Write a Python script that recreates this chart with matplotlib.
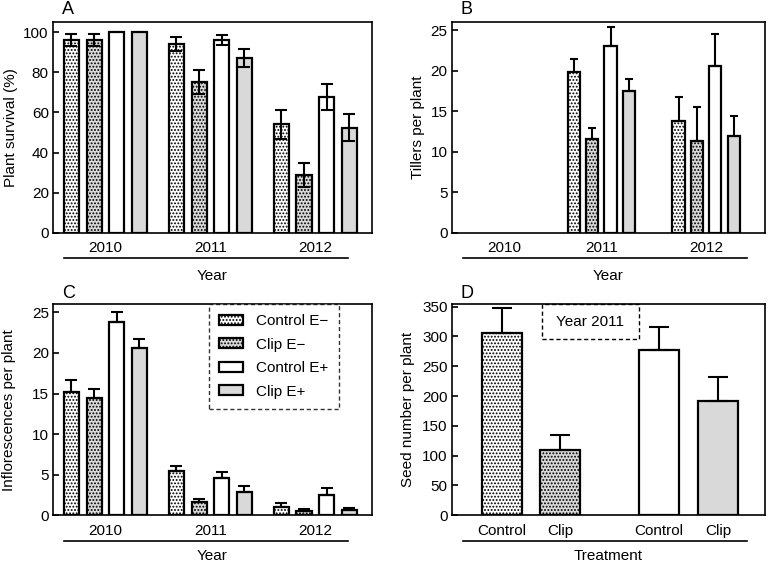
import matplotlib
matplotlib.use('Agg')
import matplotlib.pyplot as plt
import numpy as np
from matplotlib.patches import Patch, Rectangle
import matplotlib.transforms as mtransforms

plt.rcParams['font.family'] = ['Liberation Sans', 'DejaVu Sans']
plt.rcParams['font.size'] = 11
plt.rcParams['hatch.linewidth'] = 0.9

# ---------------- data ----------------
years = ['2010', '2011', '2012']
treatments = ['Control E\u2212', 'Clip E\u2212', 'Control E+', 'Clip E+']

# Panel A: plant survival (%) per treatment, years 2010-2012
survival_mean = [[96, 94, 54], [96, 75, 29], [100, 96, 67.5], [100, 87, 52.5]]
survival_err = [[3, 3.5, 7], [3, 6, 6], [0, 2.5, 6.5], [0, 4.5, 6.5]]

# Panel B: tillers per plant, years 2011-2012 (no data 2010)
tillers_years = ['2011', '2012']
tillers_mean = [[19.8, 13.75], [11.6, 11.3], [23.0, 20.6], [17.5, 12.0]]
tillers_err = [[1.6, 2.95], [1.4, 4.2], [2.4, 3.9], [1.5, 2.4]]

# Panel C: inflorescences per plant, years 2010-2012
infl_mean = [[15.2, 5.4, 1.07], [14.4, 1.7, 0.5], [23.85, 4.6, 2.55], [20.6, 2.9, 0.65]]
infl_err = [[1.45, 0.7, 0.4], [1.2, 0.35, 0.3], [1.15, 0.7, 0.8], [1.1, 0.7, 0.2]]

# Panel D: seed number per plant, year 2011
seed_labels = ['Control', 'Clip', 'Control', 'Clip']
seed_mean = [306, 110, 277, 192]
seed_err = [42, 24, 39, 40]

# ---------------- styles ----------------
faces = ['white', '#d9d9d9', 'white', '#d9d9d9']
hatches = ['.....', '.....', None, None]
EDGE_LW = 1.6
FS = 11

fig = plt.figure(figsize=(7.73, 5.66), dpi=100)
W, H = 773.0, 566.0

def axes_px(l, r, t, b):
    return fig.add_axes([l / W, 1 - b / H, (r - l) / W, (b - t) / H])

axA = axes_px(53, 372, 22, 233)
axB = axes_px(451.7, 765, 22, 233)
axC = axes_px(53, 372, 304.3, 515.3)
axD = axes_px(451.7, 765, 304.3, 515.3)


def style_axes(ax):
    for s in ax.spines.values():
        s.set_linewidth(1.2)
    ax.tick_params(axis='x', length=0, pad=6, labelsize=FS)
    ax.tick_params(axis='y', direction='in', length=4, width=1.2, labelsize=FS, pad=3)


def grouped(ax, centers, means, errs, width, spacing, capsize, two_sided):
    centers = np.asarray(centers, dtype=float)
    offs = (np.arange(4) - 1.5) * spacing
    for i in range(4):
        x = centers + offs[i]
        m = np.asarray(means[i], dtype=float)
        e = np.asarray(errs[i], dtype=float)
        ax.bar(x, m, width, color=faces[i], edgecolor='black', hatch=hatches[i],
               linewidth=EDGE_LW, zorder=2)
        k = e > 0
        if k.any():
            if two_sided:
                yerr = e[k]
            else:
                yerr = [np.zeros(k.sum()), e[k]]
            ax.errorbar(x[k], m[k], yerr=yerr, fmt='none', ecolor='black',
                        elinewidth=1.5, capsize=capsize, capthick=1.5, zorder=3)


def underline(ax, x0, x1, y, label, ly):
    tr = mtransforms.blended_transform_factory(ax.transData, ax.transAxes)
    ax.plot([x0, x1], [y, y], transform=tr, color='black', lw=1.2, clip_on=False)
    ax.text(0.5, ly, label, transform=ax.transAxes, ha='center', va='center', fontsize=FS)


def ylab(ax, x, text):
    ax.text(x, 0.5, text, transform=ax.transAxes, rotation=90, ha='center', va='center', fontsize=FS)


# ---- Panel A ----
pos3 = np.arange(len(years))
grouped(axA, pos3, survival_mean, survival_err, 0.143, 0.216, 4, True)
axA.set_xlim(-0.5, 2.54)
axA.set_ylim(0, 105)
axA.set_yticks(np.arange(0, 101, 20))
axA.set_xticks(pos3)
axA.set_xticklabels(years)
style_axes(axA)
underline(axA, -0.395, 2.31, -0.118, 'Year', -0.204)
ylab(axA, -0.132, 'Plant survival (%)')

# ---- Panel B ----
posB = np.arange(1, 1 + len(tillers_years))
grouped(axB, posB, tillers_mean, tillers_err, 0.115, 0.176, 3, False)
axB.set_xlim(-0.425, 2.56)
axB.set_ylim(0, 26)
axB.set_yticks(np.arange(0, 26, 5))
axB.set_xticks([0.08] + list(posB))
axB.set_xticklabels(['2010'] + tillers_years)
style_axes(axB)
underline(axB, -0.317, 2.39, -0.118, 'Year', -0.204)
ylab(axB, -0.108, 'Tillers per plant')

# ---- Panel C ----
grouped(axC, pos3, infl_mean, infl_err, 0.143, 0.216, 4.5, False)
axC.set_xlim(-0.5, 2.54)
axC.set_ylim(0, 26)
axC.set_yticks(np.arange(0, 26, 5))
axC.set_xticks(pos3)
axC.set_xticklabels(years)
style_axes(axC)
underline(axC, -0.395, 2.31, -0.12, 'Year', -0.193)
ylab(axC, -0.137, 'Inflorescences per plant')

handles = [Patch(facecolor=faces[i], edgecolor='black', hatch=hatches[i], linewidth=EDGE_LW)
           for i in range(4)]
leg = axC.legend(handles, treatments, loc='upper left', bbox_to_anchor=(0.489, 1.0),
                 fontsize=FS, frameon=True, fancybox=False, handlelength=1.6,
                 handleheight=0.6, handletextpad=0.85, labelspacing=0.62,
                 borderpad=0.65, borderaxespad=0.0)
fr = leg.get_frame()
fr.set_edgecolor('black')
fr.set_linestyle((0, (3, 2)))
fr.set_linewidth(1.0)

# ---- Panel D ----
posD = np.array([0, 1, 2.69, 3.7])
bars = axD.bar(posD, seed_mean, 0.68, color=faces, edgecolor='black',
               linewidth=EDGE_LW, zorder=2)
for b, h in zip(bars, hatches):
    if h:
        b.set_hatch(h)
axD.errorbar(posD, seed_mean, yerr=[np.zeros(len(seed_err)), seed_err], fmt='none',
             ecolor='black', elinewidth=1.5, capsize=7.5, capthick=1.5, zorder=3)
axD.set_xlim(-0.855, 4.5)
axD.set_ylim(0, 354)
axD.set_yticks(np.arange(0, 351, 50))
axD.set_xticks(posD)
axD.set_xticklabels(seed_labels)
style_axes(axD)
underline(axD, -0.66, 4.19, -0.12, 'Treatment', -0.193)
ylab(axD, -0.140, 'Seed number per plant')
axD.add_patch(Rectangle((0.287, 0.836), 0.311, 0.164, transform=axD.transAxes, fill=False,
                        edgecolor='black', linestyle=(0, (3, 2)), linewidth=1.0, zorder=4,
                        clip_on=False))
axD.text(0.4425, 0.917, 'Year 2011', transform=axD.transAxes, ha='center', va='center', fontsize=FS)

# ---- panel letters ----
for lab, x, y in [('A', 62, 10), ('B', 461, 10), ('C', 62, 293), ('D', 461, 293)]:
    fig.text(x / W, 1 - y / H, lab, ha='left', va='center', fontsize=13)

fig.savefig('out.png', dpi=100)
